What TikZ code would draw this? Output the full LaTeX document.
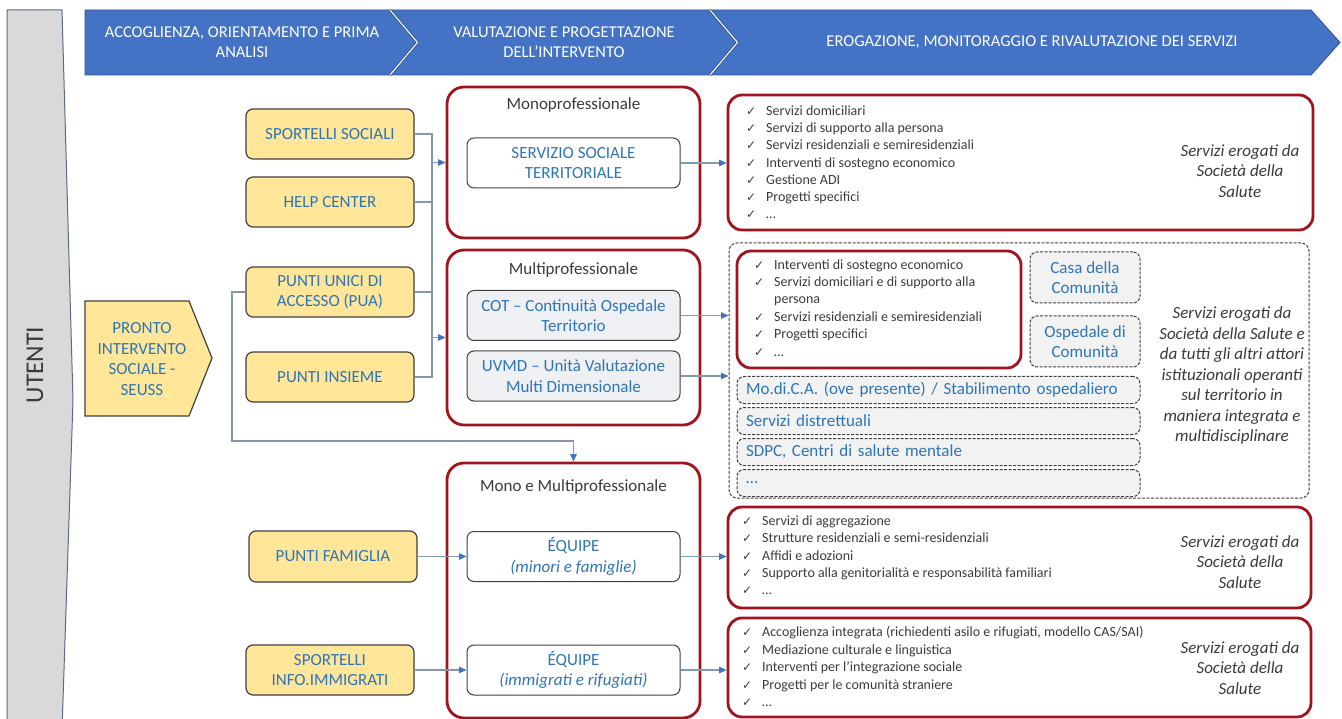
\documentclass[tikz,border=0pt]{standalone}
\usepackage{fontspec}
\setmainfont{Carlito}
\newfontfamily\symf{DejaVu Sans}
\usetikzlibrary{arrows.meta}

\definecolor{hblue}{HTML}{4472C4}
\definecolor{hedge}{HTML}{2F528F}
\definecolor{yfill}{HTML}{FFE699}
\definecolor{ydraw}{HTML}{404040}
\definecolor{tblue}{HTML}{2E75B6}
\definecolor{rdark}{HTML}{A0141E}
\definecolor{tdark}{HTML}{3A3A3A}
\definecolor{ltext}{HTML}{3B3B3B}
\definecolor{lgray}{HTML}{F2F2F2}
\definecolor{bgray}{HTML}{EEF0F4}
\definecolor{lcol}{HTML}{8497B0}
\definecolor{band}{HTML}{D9D9D9}
\definecolor{bandedge}{HTML}{5A6A85}

\newcommand\fs[2]{\fontsize{#1}{#2}\selectfont}
\newcommand\chk{{\symf\fs{12}{12}✓}}
\newcommand\ck{\makebox[20pt][l]{\chk}}

\begin{document}
\begin{tikzpicture}[x=1pt,y=-1pt,
  hdr/.style={fill=hblue, draw=hedge, line width=0.8pt},
  htext/.style={text=white, align=center, font=\fs{16.5}{20}},
  ybox/.style={draw=ydraw, fill=yfill, line width=1.2pt, rounded corners=7pt, minimum width=168pt, minimum height=50pt, align=center, text=tblue, font=\fs{17}{20.5}, inner sep=1pt},
  redbox/.style={draw=rdark, line width=2.8pt, rounded corners=17pt},
  ttl/.style={text=tdark, font=\fs{17}{20}},
  ibox/.style={draw=ydraw, fill=white, line width=1pt, rounded corners=7pt, minimum width=213pt, minimum height=50pt, align=center, text=tblue, font=\fs{17}{20.5}, inner sep=1pt},
  dbox/.style={draw=ydraw, fill=lgray, line width=1pt, dash pattern=on 3pt off 1.5pt, rounded corners=7pt},
  sbox/.style={dbox, minimum height=27pt, text width=385pt, inner xsep=9pt, inner ysep=0pt, align=left, text=tblue, font=\fs{17}{20}},
  item/.style={anchor=west, inner sep=0pt, text=ltext, font=\fs{14}{17}, text height=10pt, text depth=3pt},
  note/.style={align=center, text=tdark, font=\itshape\fs{17}{20.5}},
  link/.style={draw=lcol, line width=1.1pt},
  arr/.style={link, -{Triangle[length=7.5pt,width=6.5pt,color=hblue]}}]
\useasboundingbox (0,0) rectangle (1342,719);

% utenti
\draw[fill=band, draw=bandedge, line width=1pt] (7,10) -- (62,10) -- (73,400) -- (62,730) -- (7,730) -- cycle;
\node[rotate=90, font=\fs{25.5}{30}, text=tdark] (ut) at (35,365) {UTENTI};

% fasi
\draw[hdr] (85,10) -- (390,10) -- (417,42.5) -- (390,75) -- (85,75) -- cycle;
\draw[hdr] (390,10) -- (710,10) -- (738,42.5) -- (710,75) -- (390,75) -- (417,42.5) -- cycle;
\draw[hdr] (710,10) -- (1311,10) -- (1340,42.5) -- (1311,75) -- (710,75) -- (738,42.5) -- cycle;
\foreach \sx in {390,710} {
  \draw[hedge, line width=2.6pt] (\sx,10) -- (\sx+27.5,42.5) -- (\sx,75);
  \draw[white, line width=1.1pt] (\sx,10) -- (\sx+27.5,42.5) -- (\sx,75);
}
\node[htext] (h1) at (242,42.5) {ACCOGLIENZA, ORIENTAMENTO E PRIMA\\ANALISI};
\node[htext] (h2) at (564,42.5) {VALUTAZIONE E PROGETTAZIONE\\DELL’INTERVENTO};
\node[htext] (h3) at (1032,42.5) {EROGAZIONE, MONITORAGGIO E RIVALUTAZIONE DEI SERVIZI};

% accesso
\draw[fill=yfill, draw=ydraw, line width=1.2pt] (85,301) -- (189,301) -- (212,358) -- (189,416) -- (85,416) -- cycle;
\node[align=center, text=tblue, font=\fs{17}{20.7}] (seuss) at (142,359) {PRONTO\\INTERVENTO\\SOCIALE -\\SEUSS};
\node[ybox] (ss) at (330,134) {SPORTELLI SOCIALI};
\node[ybox] (hc) at (330,202) {HELP CENTER};
\node[ybox] (pua) at (330,292) {PUNTI UNICI DI\\ACCESSO (PUA)};
\node[ybox] (pi) at (330,377) {PUNTI INSIEME};
\node[ybox, minimum height=51pt] (pf) at (333,556.5) {PUNTI FAMIGLIA};
\node[ybox] (sii) at (330,670) {SPORTELLI\\INFO.IMMIGRATI};

% valutazione
\node[redbox, minimum width=253pt, minimum height=151pt] (mono) at (573.5,162.5) {};
\node[redbox, minimum width=253pt, minimum height=175pt] (multi) at (573.5,337.5) {};
\node[redbox, minimum width=253pt, minimum height=255pt] (mm) at (573.5,590.5) {};
\node[ttl] (monot) at (573.5,105) {Monoprofessionale};
\node[ttl] (multit) at (573.5,270) {Multiprofessionale};
\node[ttl] (mmt) at (573.5,487) {Mono e Multiprofessionale};
\node[ibox] (sst) at (573.5,163) {SERVIZIO SOCIALE\\TERRITORIALE};
\node[ibox, fill=bgray] (cot) at (573.5,315.5) {COT – Continuità Ospedale\\Territorio};
\node[ibox, fill=bgray] (uvmd) at (573.5,376) {UVMD – Unità Valutazione\\Multi Dimensionale};
\node[ibox] (eqm) at (573.5,556.5) {ÉQUIPE\\\textit{(minori e famiglie)}};
\node[ibox] (eqi) at (573.5,670) {ÉQUIPE\\\textit{(immigrati e rifugiati)}};

% erogazione
\node[redbox, rounded corners=14pt, minimum width=585pt, minimum height=135pt] (out1) at (1020.5,162.5) {};
\node[dbox, fill=white, rounded corners=8pt, minimum width=580pt, minimum height=255pt] (cont) at (1019,370.5) {};
\node[redbox, rounded corners=14pt, minimum width=284pt, minimum height=117pt] (out2) at (879,309.5) {};
\node[dbox, minimum width=110pt, minimum height=51pt, align=center, text=tblue, font=\fs{17}{20.5}] (casa) at (1085,277.5) {Casa della\\Comunità};
\node[dbox, minimum width=110pt, minimum height=51pt, align=center, text=tblue, font=\fs{17}{20.5}] (osp) at (1085,341.5) {Ospedale di\\Comunità};
\node[sbox] (modica) at (938.5,390) {Mo.di.C.A. (ove presente) / Stabilimento ospedaliero};
\node[sbox] (distr) at (938.5,421) {Servizi distrettuali};
\node[sbox] (sdpc) at (938.5,452) {SDPC, Centri di salute mentale};
\node[sbox] (etc) at (938.5,483) {…};
\node[redbox, rounded corners=14pt, minimum width=583pt, minimum height=101pt] (out3) at (1019.5,557.5) {};
\node[redbox, rounded corners=14pt, minimum width=583pt, minimum height=99pt] (out4) at (1019.5,667.5) {};

\foreach \t [count=\i] in {Servizi domiciliari, Servizi di supporto alla persona, Servizi residenziali e semiresidenziali, Interventi di sostegno economico, Gestione ADI, Progetti specifici, …}
  \node[item] (la\i) at (746,{94.8+17.2*\i}) {\ck\t};
\foreach \t/\yy [count=\i] in {Interventi di sostegno economico/266, Servizi domiciliari e di supporto alla/283, Servizi residenziali e semiresidenziali/318, Progetti specifici/335, …/353}
  \node[item] (lb\i) at (754,\yy) {\ck\t};
\node[item] (lbx) at (774,300.5) {persona};
\foreach \t [count=\i] in {Servizi di aggregazione, Strutture residenziali e semi-residenziali, Affidi e adozioni, Supporto alla genitorialità e responsabilità familiari, …}
  \node[item] (lc\i) at (742,{504.7+17.3*\i}) {\ck\t};
\foreach \t [count=\i] in {{Accoglienza integrata (richiedenti asilo e rifugiati, modello CAS/SAI)}, Mediazione culturale e linguistica, Interventi per l’integrazione sociale, Progetti per le comunità straniere, …}
  \node[item] (ld\i) at (742,{615.5+17.5*\i}) {\ck\t};

\node[note] (n1) at (1240,171) {Servizi erogati da\\Società della\\Salute};
\node[note] (n2) at (1232,375.5) {Servizi erogati da\\Società della Salute e\\da tutti gli altri attori\\istituzionali operanti\\sul territorio in\\maniera integrata e\\multidisciplinare};
\node[note] (n3) at (1240,562) {Servizi erogati da\\Società della\\Salute};
\node[note] (n4) at (1240,668) {Servizi erogati da\\Società della\\Salute};

% collegamenti
\coordinate (jx) at (432,0);
\coordinate (jy) at (232,441);
\draw[link] (ss.east) -- (ss.east -| jx) |- (pi.east);
\draw[link] (hc.east) -- (hc.east -| jx);
\draw[link] (pua.east) -- (pua.east -| jx);
\draw[arr] (mono.west -| jx) -- (mono.west);
\draw[arr] (multi.west -| jx) -- (multi.west);
\draw[arr] (pua.west) -| (jy) -| (mm.north);
\draw[arr] (pf.east) -- (eqm.west);
\draw[arr] (sii.east) -- (eqi.west);
\draw[arr] (sst.east) -- (sst.east -| out1.west);
\draw[arr] (cot.east) -- (cot.east -| cont.west);
\draw[arr] (uvmd.east) -- (uvmd.east -| cont.west);
\draw[arr] (eqm.east) -- (eqm.east -| out3.west);
\draw[arr] (eqi.east) -- (eqi.east -| out4.west);
\end{tikzpicture}
\end{document}
